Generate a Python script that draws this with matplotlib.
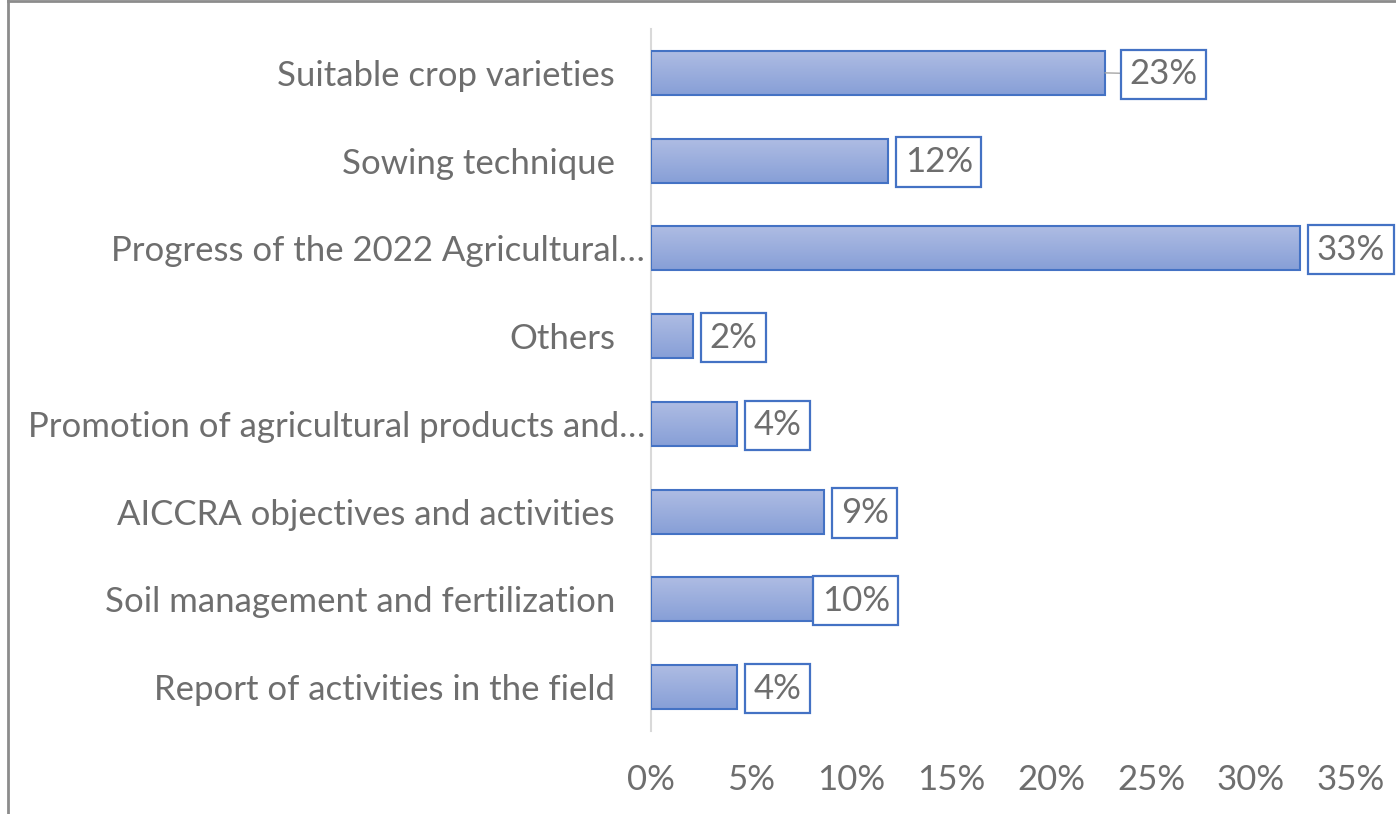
import matplotlib
matplotlib.use('Agg')
import matplotlib.pyplot as plt
import numpy as np
from matplotlib.colors import LinearSegmentedColormap
from matplotlib.lines import Line2D
import matplotlib.transforms as mtransforms

plt.rcParams['font.family'] = ['Lato', 'DejaVu Sans']

categories = ["Suitable crop varieties", "Sowing technique",
              "Progress of the 2022 Agricultural\u2026", "Others",
              "Promotion of agricultural products and\u2026",
              "AICCRA objectives and activities",
              "Soil management and fertilization",
              "Report of activities in the field"]
values = [22.7, 11.85, 32.45, 2.1, 4.3, 8.65, 9.6, 4.3]
labels = ["23%", "12%", "33%", "2%", "4%", "9%", "10%", "4%"]
xticks = [0, 5, 10, 15, 20, 25, 30, 35]
xtick_labels = ["0%", "5%", "10%", "15%", "20%", "25%", "30%", "35%"]

W, H = 1396, 814
TXT = '#6E6E6E'
BLUE = '#4472C4'
FS = 25

fig = plt.figure(figsize=(W / 100, H / 100), dpi=100)
ax = fig.add_axes([651 / W, 1 - 731 / H, (1351 - 651) / W, (731 - 29) / H])

ypos = np.arange(len(categories))
bars = ax.barh(ypos, values, height=0.5, color='none', edgecolor=BLUE,
               linewidth=1.5, zorder=3)
cmap = LinearSegmentedColormap.from_list('g', ['#AEBCE3', '#879FD7'])
grad = np.linspace(0, 1, 100).reshape(-1, 1)
for b in bars:
    x0, y0, w, h = b.get_x(), b.get_y(), b.get_width(), b.get_height()
    im = ax.imshow(grad, cmap=cmap, extent=[x0, x0 + w, y0 + h, y0],
                   aspect='auto', zorder=2, origin='upper')
    im.set_clip_path(b)

ax.set_xlim(0, 35)
ax.set_ylim(len(categories) - 0.5, -0.5)

# data labels
pad = 0.25
gap_px = {0: 16, 6: -30}
for i, (v, lab) in enumerate(zip(values, labels)):
    g = gap_px.get(i, 8)
    off = g * 0.72 + pad * FS
    kw = {}
    if i == 0:
        kw['arrowprops'] = dict(arrowstyle='-', color='#A6A6A6', lw=1,
                                shrinkA=0, shrinkB=0)
    ax.annotate(lab, xy=(v, i), xytext=(off, -1), textcoords='offset points',
                ha='left', va='center', fontsize=FS, color=TXT, zorder=5,
                bbox=dict(boxstyle=f'square,pad={pad}', fc='white', ec=BLUE, lw=1.6),
                **kw)

ax.set_yticks(ypos, categories)
ax.set_xticks(xticks, xtick_labels)
ax.tick_params(axis='y', length=0, pad=26, labelsize=FS, labelcolor=TXT)
ax.tick_params(axis='x', length=0, pad=24, labelsize=FS, labelcolor=TXT)
for lbl in ax.get_yticklabels():
    if lbl.get_text().endswith('\u2026'):
        lbl.set_transform(lbl.get_transform() +
                          mtransforms.ScaledTranslation(30 / 100, 0, fig.dpi_scale_trans))

for s in ['top', 'right', 'bottom']:
    ax.spines[s].set_visible(False)
ax.spines['left'].set_color('#D9D9D9')
ax.spines['left'].set_linewidth(1.5)

fig.add_artist(Line2D([8 / W, 8 / W], [0, 1], color='#8C8C8C', lw=2,
                      transform=fig.transFigure))
fig.add_artist(Line2D([8 / W, 1], [1 - 1 / H, 1 - 1 / H], color='#8C8C8C', lw=2,
                      transform=fig.transFigure))

fig.savefig('out.png', dpi=100)
